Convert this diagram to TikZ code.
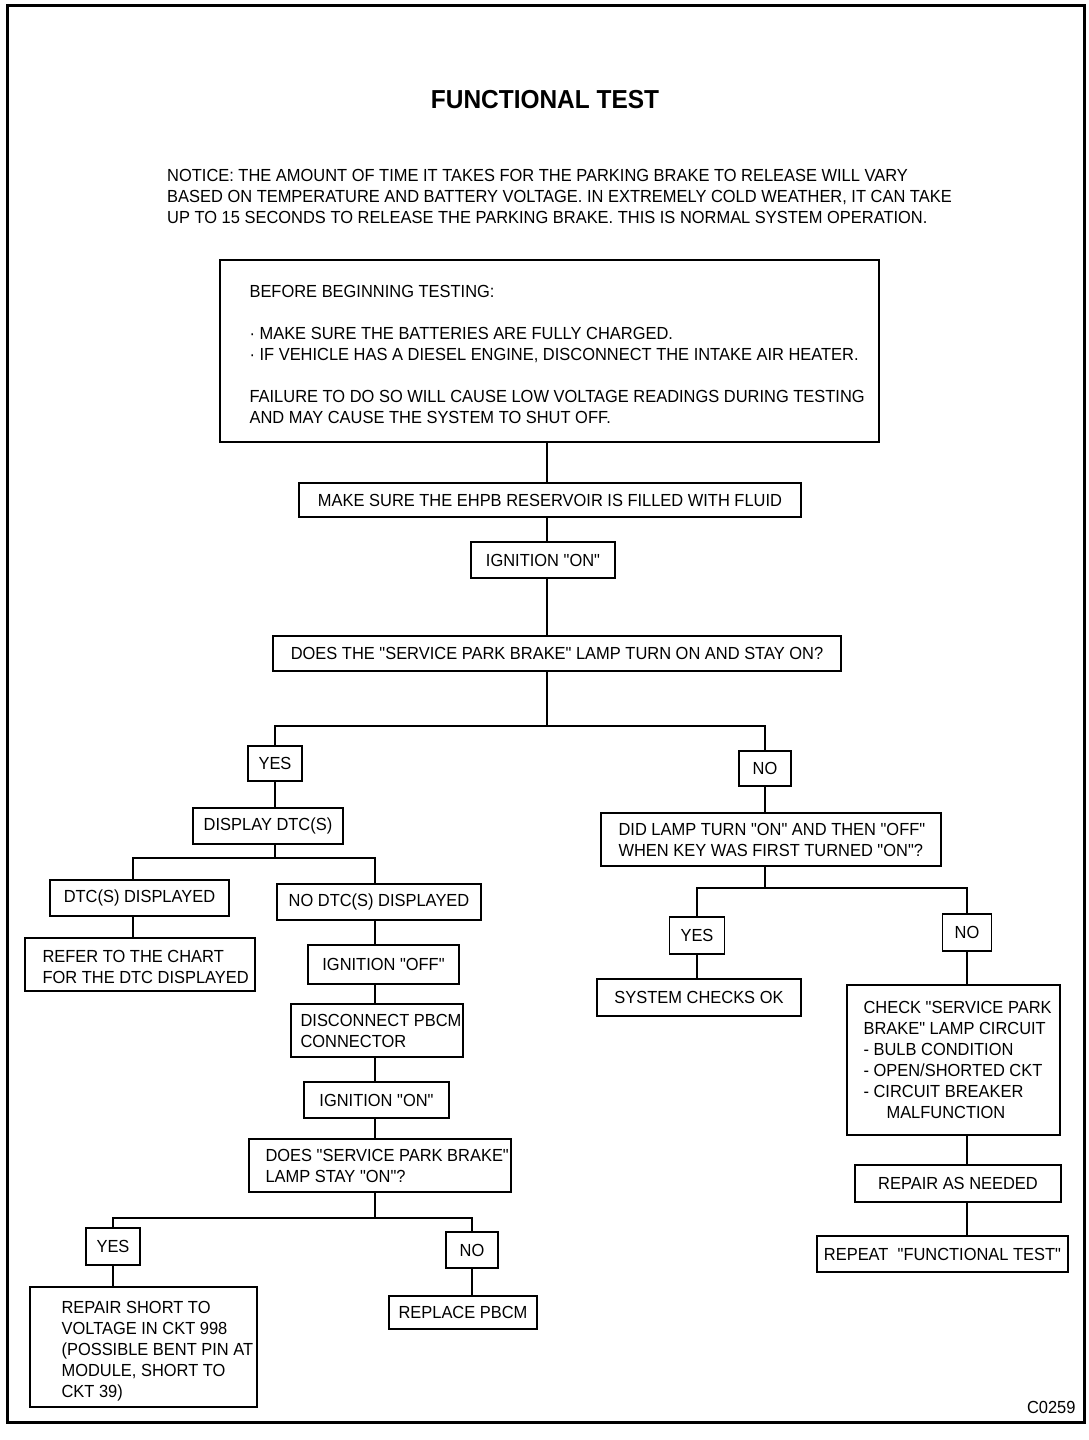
\documentclass[tikz,border=0pt]{standalone}
\usepackage{fontspec}
\setmainfont{Liberation Sans}[FakeStretch=0.94,Ligatures=TeXOff]
\usetikzlibrary{positioning}
\newcommand\boxfont{\fontsize{17.5}{21}\selectfont}

\begin{document}
\begin{tikzpicture}[x=1pt,y=-1pt,font=\boxfont,
    box/.style={rectangle,draw,line width=1.3pt,inner sep=0pt},
    txt/.style={align=left,inner sep=0pt},
    link/.style={line width=1.8pt}]

    \useasboundingbox (0,0) rectangle (1088,1440);
    \draw[line width=3pt] (7,5) rectangle (1084,1422);

    \node[font=\fontsize{26}{30}\selectfont\bfseries] (title) at (545,100) {FUNCTIONAL TEST};
    \node[txt,anchor=west] (notice) at (167,196) {NOTICE: THE AMOUNT OF TIME IT TAKES FOR THE PARKING BRAKE TO RELEASE WILL VARY\\
        BASED ON TEMPERATURE AND BATTERY VOLTAGE. IN EXTREMELY COLD WEATHER, IT CAN TAKE\\
        UP TO 15 SECONDS TO RELEASE THE PARKING BRAKE. THIS IS NORMAL SYSTEM OPERATION.};

    % main column
    \node[box,minimum width=659,minimum height=182] (before) at (549.5,351) {};
    \node[txt,right=30pt of before.west,yshift=-3pt] (beforetxt) {BEFORE BEGINNING TESTING:\\[21pt]
        · MAKE SURE THE BATTERIES ARE FULLY CHARGED.\\
        · IF VEHICLE HAS A DIESEL ENGINE, DISCONNECT THE INTAKE AIR HEATER.\\[21pt]
        FAILURE TO DO SO WILL CAUSE LOW VOLTAGE READINGS DURING TESTING\\
        AND MAY CAUSE THE SYSTEM TO SHUT OFF.};
    \node[box,minimum width=502,minimum height=34] (fluid) at (550,500) {MAKE SURE THE EHPB RESERVOIR IS FILLED WITH FLUID};
    \node[box,minimum width=144,minimum height=36] (ign) at (543,560) {IGNITION "ON"};
    \node[box,minimum width=568,minimum height=35] (lamp) at (557,653.5) {DOES THE "SERVICE PARK BRAKE" LAMP TURN ON AND STAY ON?};

    \node[box,minimum width=54,minimum height=35] (yes1) at (275,763.5) {YES};
    \node[box,minimum width=52,minimum height=35] (no1) at (765,768.5) {NO};

    % left branch
    \node[box,minimum width=150,minimum height=36] (dtc) at (268,826) {DISPLAY DTC(S)};
    \node[box,minimum width=179,minimum height=36] (dd) at (139.5,898) {DTC(S) DISPLAYED};
    \node[box,minimum width=230,minimum height=53] (ref) at (140,964.5) {};
    \node[txt,right=18pt of ref.west,yshift=-2pt] (reftxt) {REFER TO THE CHART\\FOR THE DTC DISPLAYED};
    \node[box,minimum width=204,minimum height=36] (ndd) at (379,902) {NO DTC(S) DISPLAYED};
    \node[box,minimum width=151,minimum height=39] (ioff) at (383.5,964.5) {IGNITION "OFF"};
    \node[box,minimum width=172,minimum height=53] (disc) at (377,1030.5) {};
    \node[txt,right=10pt of disc.west] (disctxt) {DISCONNECT PBCM\\CONNECTOR};
    \node[box,minimum width=145,minimum height=36] (ign2) at (376.5,1100) {IGNITION "ON"};
    \node[box,minimum width=262,minimum height=53] (stay) at (380,1165.5) {};
    \node[txt,right=17pt of stay.west] (staytxt) {DOES "SERVICE PARK BRAKE"\\LAMP STAY "ON"?};
    \node[box,minimum width=54,minimum height=37] (yes2) at (113,1246.5) {YES};
    \node[box,minimum width=52,minimum height=36] (no2) at (472,1250) {NO};
    \node[box,minimum width=227,minimum height=120] (short) at (143.5,1347) {};
    \node[txt,right=32pt of short.west,yshift=-4pt] (shorttxt) {REPAIR SHORT TO\\VOLTAGE IN CKT 998\\(POSSIBLE BENT PIN AT\\MODULE, SHORT TO\\CKT 39)};
    \node[box,minimum width=148,minimum height=33] (pbcm) at (463,1312.5) {REPLACE PBCM};

    % right branch
    \node[box,minimum width=340,minimum height=53] (did) at (771,839.5) {};
    \node[txt,right=18pt of did.west] (didtxt) {DID LAMP TURN "ON" AND THEN "OFF"\\WHEN KEY WAS FIRST TURNED "ON"?};
    \node[box,minimum width=55,minimum height=37] (yes3) at (697,935.5) {YES};
    \node[box,minimum width=49,minimum height=37] (no3) at (967,932.5) {NO};
    \node[box,minimum width=204,minimum height=37] (ok) at (699,997.5) {SYSTEM CHECKS OK};
    \node[box,minimum width=213,minimum height=150] (check) at (953.5,1060) {};
    \node[txt,right=17pt of check.west] (checktxt) {CHECK "SERVICE PARK\\BRAKE" LAMP CIRCUIT\\
        - BULB CONDITION\\- OPEN/SHORTED CKT\\- CIRCUIT BREAKER\\\hspace*{23pt}MALFUNCTION};
    \node[box,minimum width=206,minimum height=37] (repair) at (958,1183.5) {REPAIR AS NEEDED};
    \node[box,minimum width=251,minimum height=36] (repeat) at (942.5,1254) {REPEAT\ \ "FUNCTIONAL TEST"};

    \node[anchor=east] (code) at (1079,1407) {C0259};

    % line positions
    \coordinate (sp) at (547,0);
    \coordinate (j1) at (547,726);
    \coordinate (j2) at (275,858);
    \coordinate (dl) at (133,0);
    \coordinate (dr) at (375,0);
    \coordinate (j3) at (375,1218);
    \coordinate (j4) at (765,888);

    \draw[link] (before.south -| sp) -- (fluid.north -| sp);
    \draw[link] (fluid.south -| sp) -- (ign.north -| sp);
    \draw[link] (ign.south -| sp) -- (lamp.north -| sp);
    \draw[link] (lamp.south -| sp) -- (j1);
    \draw[link] (yes1.north) |- (j1) -| (no1.north);

    \draw[link] (yes1.south) -- (yes1.south |- dtc.north);
    \draw[link] (yes1.south |- dtc.south) -- (j2);
    \draw[link] (dd.north -| dl) |- (j2) -| (ndd.north -| dr);
    \draw[link] (dd.south -| dl) -- (ref.north -| dl);
    \draw[link] (ndd.south -| dr) -- (ioff.north -| dr);
    \draw[link] (ioff.south -| dr) -- (disc.north -| dr);
    \draw[link] (disc.south -| dr) -- (ign2.north -| dr);
    \draw[link] (ign2.south -| dr) -- (stay.north -| dr);
    \draw[link] (stay.south -| dr) -- (j3);
    \draw[link] (yes2.north) |- (j3) -| (no2.north);
    \draw[link] (yes2.south) -- (yes2.south |- short.north);
    \draw[link] (no2.south) -- (no2.south |- pbcm.north);

    \draw[link] (no1.south) -- (no1.south |- did.north);
    \draw[link] (no1.south |- did.south) -- (j4);
    \draw[link] (yes3.north) |- (j4) -| (no3.north);
    \draw[link] (yes3.south) -- (yes3.south |- ok.north);
    \draw[link] (no3.south) -- (no3.south |- check.north);
    \draw[link] (no3.south |- check.south) -- (no3.south |- repair.north);
    \draw[link] (no3.south |- repair.south) -- (no3.south |- repeat.north);
\end{tikzpicture}
\end{document}
